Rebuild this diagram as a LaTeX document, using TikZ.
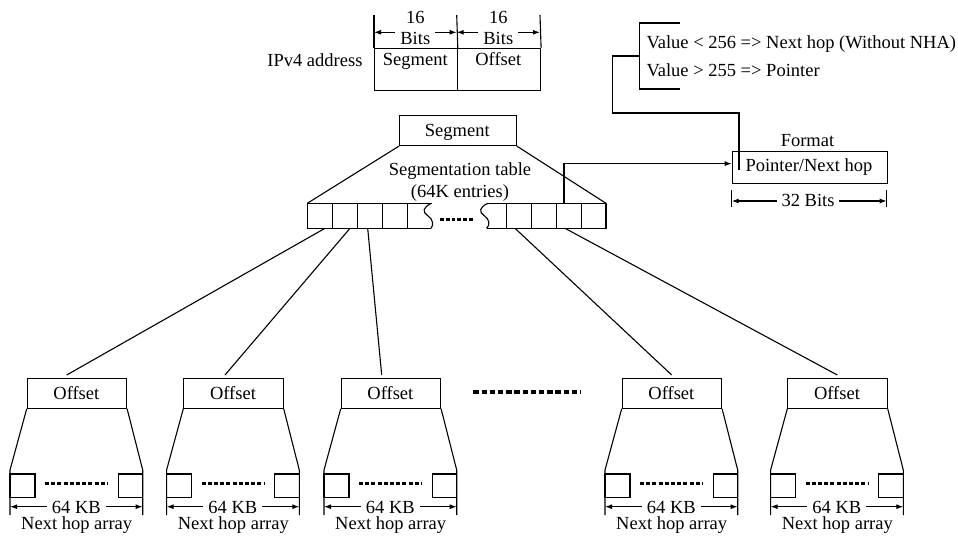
\documentclass[tikz,border=0pt]{standalone}
\usepackage{fontspec}
\setmainfont{Liberation Serif}
\usetikzlibrary{arrows.meta,calc}
\begin{document}
\begin{tikzpicture}[x=1pt,y=-1pt,
  line width=1.1pt,
  every node/.style={font=\fontsize{18.5}{22}\selectfont, inner sep=0pt},
  txt/.style={anchor=base},
  boxed/.style={draw, anchor=north west},
  offbox/.style={draw, anchor=north west, minimum width=99.3pt, minimum height=29.7pt},
  dim/.style={{Latex[length=7pt,width=5pt]}-{Latex[length=7pt,width=5pt]}},
  arr/.style={-{Latex[length=7pt,width=5pt]}},
  lbl/.style={anchor=base, fill=white, inner xsep=5pt, inner ysep=1pt},
  fewdots/.style={line width=2.6pt, dash pattern=on 4pt off 2.2pt},
  tabdots/.style={line width=3.2pt, dash pattern=on 3.8pt off 2pt},
  bigdots/.style={line width=4pt, dash pattern=on 5.5pt off 2.7pt}]
\useasboundingbox (0,0) rectangle (958,540);

% ---------- IPv4 address split into segment / offset ----------
\node[boxed, minimum width=82.7pt, minimum height=42pt] (aseg) at (374,48) {};
\node[boxed, minimum width=83.3pt, minimum height=42pt] (aoff) at (456.7,48) {};
\node[txt] (asegt) at (415.3,66) {Segment};
\node[txt] (aofft) at (498.3,66) {Offset};
\node[anchor=base east] (ipv4) at (363,67) {IPv4 address};
\draw (374,15) -- (aseg.north west);
\draw (456.7,15) -- (aseg.north east);
\draw (540,15) -- (aoff.north east);
\draw[dim] (374,32.3) -- (456.7,32.3);
\draw[dim] (456.7,32.3) -- (540,32.3);
\node[lbl] (bits1) at (415.3,45) {Bits};
\node[lbl] (bits2) at (498.3,45) {Bits};
\node[txt] (n1) at (415.3,23.3) {16};
\node[txt] (n2) at (498.3,23.3) {16};

% ---------- entry format ----------
\draw (680,23) -- (639.3,23) -- (639.3,89) -- (680,89);
\node[anchor=base west] (v1) at (646,48.5) {Value < 256 => Next hop (Without NHA)};
\node[anchor=base west] (v2) at (646,77) {Value > 255 => Pointer};
\node[boxed, minimum width=155pt, minimum height=31.7pt] (fmt) at (731.7,151) {};
\node[txt] (fmtt) at (809,171.5) {Pointer/Next hop};
\node[txt] (fmtl) at (807.5,146.5) {Format};
\coordinate (brk) at (639.3,56);
\draw (brk) -- (612.7,56) -- (612.7,113) -- (739,113) -- (739,170);
\draw (731.7,190) -- (731.7,207);
\draw (886.7,190) -- (886.7,207);
\draw[dim] (731.7,201) -- (886.7,201);
\node[lbl] (b32) at (808,207) {32 Bits};

% ---------- segmentation table ----------
\node[boxed, minimum width=116.7pt, minimum height=30pt] (mseg) at (399,115) {};
\node[txt] (msegt) at (457.3,137) {Segment};
\node[txt] (stab1) at (460,175.5) {Segmentation table};
\node[txt] (stab2) at (460,197) {(64K entries)};
\draw (mseg.south west) -- (307.3,203.3);
\draw (mseg.south east) -- (606,203.3);

% left block of cells with a torn edge
\draw (431.5,203.3) -- (307.3,203.3) -- (307.3,228.3) -- (431,228.3);
\foreach \x in {332.7,357.7,382.7,407.7} \draw (\x,203.3) -- (\x,228.3);
\draw (431.5,203.3) .. controls (423,207) and (422,212) .. (427.5,215.5)
      .. controls (433,219) and (434,225) .. (431,228.3);
% right block of cells with a torn edge
\draw (488,203.3) -- (606,203.3) -- (606,228.3) -- (486.5,228.3);
\foreach \x in {506.7,531.7,556.7,581.7} \draw (\x,203.3) -- (\x,228.3);
\draw (488,203.3) .. controls (479.5,207) and (478.5,212) .. (484,215.5)
      .. controls (489.5,219) and (490.5,225) .. (486.5,228.3);
\draw[tabdots] (440,219.3) -- (474,219.3);

% pointer from a table entry to the format box
\coordinate (cf) at (564,203.3);
\draw[arr] (cf) |- ([yshift=3.8pt]fmt.west);

% ---------- next hop arrays ----------
\foreach \i/\L in {1/26.7, 2/183.3, 3/340.7, 4/621.7, 5/787.3} {
  \node[offbox] (o\i) at (\L,378) {};
  \node[txt] (ot\i) at ({\L+49.65},399) {Offset};
  \draw (o\i.south west) -- ({\L-16.7},470) -- ({\L-16.7},515);
  \draw (o\i.south east) -- ({\L+116},470) -- ({\L+116},515);
  \draw ({\L-16.7},474) rectangle ({\L+8.3},497.7);
  \draw ({\L+91.6},474) rectangle ({\L+116},497.7);
  \draw[fewdots] ({\L+18.3},483.3) -- ({\L+81.3},483.3);
  \draw[dim] ({\L-16.7},506.7) -- ({\L+116},506.7);
  \node[lbl] (kb\i) at ({\L+49.6},513) {64 KB};
  \node[txt] (nha\i) at ({\L+50},529) {Next hop array};
}
\draw[bigdots] (473.3,391.7) -- (580,391.7);

% ---------- table entries to offset tables ----------
\coordinate (c1) at (325,228.3);
\coordinate (c2) at (350,228.3);
\coordinate (c3) at (367.7,228.3);
\coordinate (c4) at (515,228.3);
\coordinate (c5) at (565,228.3);
\draw (c1) -- ($(o1.north west)+(40,-3)$);
\draw (c2) -- ($(o2.north west)+(41.7,-3)$);
\draw (c3) -- ($(o3.north west)+(41,-3)$);
\draw (c4) -- ($(o4.north west)+(50,-3)$);
\draw (c5) -- ($(o5.north west)+(50,-3)$);
\end{tikzpicture}
\end{document}
